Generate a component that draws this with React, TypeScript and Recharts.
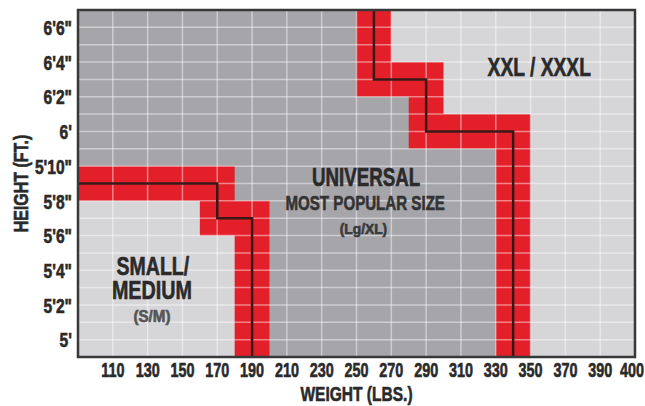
import React from "react";
import {
  Area,
  CartesianGrid,
  ComposedChart,
  Label,
  Line,
  ReferenceArea,
  ReferenceDot,
  XAxis,
  YAxis
} from "recharts";

// weight in lbs along x, height in inches along y
const WEIGHT_MIN = 90;
const WEIGHT_MAX = 410;
const HEIGHT_MIN = 59;
const HEIGHT_MAX = 79;

const weightTicks = [110, 130, 150, 170, 190, 210, 230, 250, 270, 290, 310, 330, 350, 370, 390, 410];
const weightTickLabels = ["110", "130", "150", "170", "190", "210", "230", "250", "270", "290", "310", "330", "350", "370", "390", "400"];
const weightGrid = [110, 130, 150, 170, 190, 210, 230, 250, 270, 290, 310, 330, 350, 370, 390];

const heightTicks = [60, 62, 64, 66, 68, 70, 72, 74, 76, 78];
const heightTickLabels = ["5'", "5'2\"", "5'4\"", "5'6\"", "5'8\"", "5'10\"", "6'", "6'2\"", "6'4\"", "6'6\""];
const heightGrid = [60, 61, 62, 63, 64, 65, 66, 67, 68, 69, 70, 71, 72, 73, 74, 75, 76, 77, 78];

// border between SMALL/MEDIUM and UNIVERSAL (corner points)
const smallEdgeWeight = [90, 170, 170, 190, 190];
const smallEdgeHeight = [69, 69, 67, 67, 59];

// border between UNIVERSAL and XXL / XXXL (corner points)
const xxlEdgeWeight = [260, 260, 290, 290, 340, 340];
const xxlEdgeHeight = [79, 75, 75, 72, 72, 59];

const smallEdge = smallEdgeWeight.map((weight, i) => ({ weight, height: smallEdgeHeight[i] }));
const xxlEdge = xxlEdgeWeight.map((weight, i) => ({ weight, height: xxlEdgeHeight[i] }));
const xxlZone = [...xxlEdge, { weight: WEIGHT_MAX, height: HEIGHT_MIN }];

const W = 645;
const H = 406;
const MARGIN = { top: 10, right: 10, bottom: 0, left: 0 };
const Y_AXIS_W = 78;
const X_AXIS_H = 49;
const plotW = W - MARGIN.right - Y_AXIS_W;
// red band is two 10 lb cells wide around the border line
const bandPx = (plotW / (WEIGHT_MAX - WEIGHT_MIN)) * 20;

const font = "'Liberation Sans', Arial, sans-serif";
const ink = "#2a2a2a";
const midGray = "#a5a5aa";
const lightGray = "#d6d6d9";
const red = "#e3202a";

const annotations = [
  { text: "XXL / XXXL", weight: 355, height: 75.7, size: 26, sx: 0.74, color: ink },
  { text: "UNIVERSAL", weight: 255.5, height: 69.4, size: 26, sx: 0.72, color: ink },
  { text: "MOST POPULAR SIZE", weight: 255, height: 67.9, size: 21, sx: 0.72, color: "#333" },
  { text: "(Lg/XL)", weight: 254, height: 66.4, size: 15, sx: 0.92, color: "#3a3a3a" },
  { text: "SMALL/", weight: 133, height: 64.25, size: 26, sx: 0.75, color: ink },
  { text: "MEDIUM", weight: 132.5, height: 62.85, size: 26, sx: 0.76, color: ink },
  { text: "(S/M)", weight: 132.5, height: 61.35, size: 16, sx: 0.95, color: "#555" }
];

function Condensed({ x, y, size, sx, color = ink, anchor = "middle", rotate = 0, children }: any) {
  return (
    <text
      transform={`translate(${x} ${y}) rotate(${rotate}) scale(${sx} 1)`}
      textAnchor={anchor}
      dominantBaseline="central"
      fontFamily={font}
      fontWeight={700}
      fontSize={size}
      fill={color}
      stroke={color}
      strokeWidth={0.6}
    >
      {children}
    </text>
  );
}

function WeightTick({ x, y, payload }: any) {
  const idx = weightTicks.indexOf(payload.value);
  const last = idx === weightTicks.length - 1;
  return (
    <Condensed x={last ? W - 1 : x} y={y + 13} size={20} sx={0.72} anchor={last ? "end" : "middle"}>
      {weightTickLabels[idx]}
    </Condensed>
  );
}

function HeightTick({ x, y, payload }: any) {
  const idx = heightTicks.indexOf(payload.value);
  return (
    <Condensed x={x - 6} y={y + 1} size={20} sx={0.78} anchor="end">
      {heightTickLabels[idx]}
    </Condensed>
  );
}

export default function App() {
  return (
    <div style={{ position: "absolute", left: 0, top: 0, width: W, height: H, background: "#fff" }}>
      <ComposedChart width={W} height={H} margin={MARGIN}>
        <XAxis
          type="number"
          dataKey="weight"
          domain={[WEIGHT_MIN, WEIGHT_MAX]}
          ticks={weightTicks}
          interval={0}
          allowDataOverflow
          axisLine={false}
          tickLine={false}
          tickSize={0}
          tickMargin={0}
          height={X_AXIS_H}
          tick={<WeightTick />}
        >
          <Label
            content={({ viewBox }: any) => (
              <Condensed x={viewBox.x + viewBox.width / 2} y={viewBox.y + 37} size={21} sx={0.74}>
                WEIGHT (LBS.)
              </Condensed>
            )}
          />
        </XAxis>
        <YAxis
          type="number"
          dataKey="height"
          domain={[HEIGHT_MIN, HEIGHT_MAX]}
          ticks={heightTicks}
          interval={0}
          allowDataOverflow
          axisLine={false}
          tickLine={false}
          tickSize={0}
          tickMargin={0}
          width={Y_AXIS_W}
          tick={<HeightTick />}
        >
          <Label
            content={({ viewBox }: any) => (
              <Condensed x={21} y={viewBox.y + viewBox.height / 2} size={21} sx={0.76} rotate={-90}>
                HEIGHT (FT.)
              </Condensed>
            )}
          />
        </YAxis>

        <ReferenceArea x1={WEIGHT_MIN} x2={WEIGHT_MAX} y1={HEIGHT_MIN} y2={HEIGHT_MAX} fill={midGray} fillOpacity={1} stroke="none" zIndex={-300} />

        <Area data={smallEdge} dataKey="height" type="linear" baseValue={HEIGHT_MIN} fill={lightGray} fillOpacity={1} stroke="none" isAnimationActive={false} zIndex={100} />
        <Area data={xxlZone} dataKey="height" type="linear" baseValue={HEIGHT_MAX} fill={lightGray} fillOpacity={1} stroke="none" isAnimationActive={false} zIndex={100} />

        <Line data={smallEdge} dataKey="height" type="linear" stroke={red} strokeWidth={bandPx} strokeLinejoin="miter" strokeLinecap="butt" dot={false} activeDot={false} isAnimationActive={false} zIndex={300} />
        <Line data={xxlEdge} dataKey="height" type="linear" stroke={red} strokeWidth={bandPx} strokeLinejoin="miter" strokeLinecap="butt" dot={false} activeDot={false} isAnimationActive={false} zIndex={300} />

        <CartesianGrid
          horizontalValues={heightGrid}
          verticalValues={weightGrid}
          stroke="#ffffff"
          strokeOpacity={0.45}
          strokeWidth={1.5}
          zIndex={350}
        />

        <Line data={smallEdge} dataKey="height" type="linear" stroke="#3a1616" strokeWidth={2.5} dot={false} activeDot={false} isAnimationActive={false} zIndex={400} />
        <Line data={xxlEdge} dataKey="height" type="linear" stroke="#3a1616" strokeWidth={2.5} dot={false} activeDot={false} isAnimationActive={false} zIndex={400} />

        <ReferenceArea x1={WEIGHT_MIN} x2={WEIGHT_MAX} y1={HEIGHT_MIN} y2={HEIGHT_MAX} fill="none" stroke="#383838" strokeWidth={2.5} zIndex={450} />

        {annotations.map((a) => (
          <ReferenceDot
            key={a.text}
            x={a.weight}
            y={a.height}
            r={0.01}
            fill="none"
            stroke="none"
            zIndex={2000}
            label={
              <Label
                content={({ viewBox }: any) => (
                  <Condensed x={viewBox.x} y={viewBox.y} size={a.size} sx={a.sx} color={a.color}>
                    {a.text}
                  </Condensed>
                )}
              />
            }
          />
        ))}
      </ComposedChart>
    </div>
  );
}
